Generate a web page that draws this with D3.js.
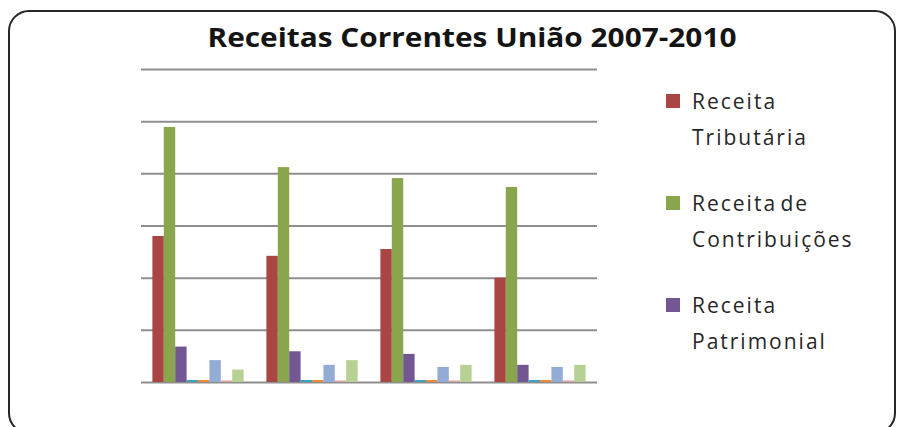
<!DOCTYPE html>
<html>
<head>
<meta charset="utf-8">
<script src="https://cdn.jsdelivr.net/npm/d3@7"></script>
<style>
  body { margin: 0; background: #fff; }
  svg { display: block; }
</style>
</head>
<body>
<div id="chart"></div>
<script>
// categories and series (values in R$ bilhões)
const years = ["2007", "2008", "2009", "2010"];
const seriesNames = [
    "Receita Tributária",
    "Receita de Contribuições",
    "Receita Patrimonial",
    "Receita Agropecuária",
    "Receita Industrial",
    "Receita de Serviços",
    "Transferências Correntes",
    "Outras Receitas Correntes"
];
const tributaria    = [278, 240, 253, 198];
const contribuicoes = [487, 410, 389, 372];
const patrimonial   = [66, 57, 52, 31];
const agropecuaria  = [2, 2, 2, 2];
const industrial    = [2, 2, 2, 2];
const servicos      = [40, 31, 27, 27];
const transferencias = [1, 1, 1, 1];
const outras        = [22, 40, 31, 31];
const yTicks = [0, 100, 200, 300, 400, 500, 600];

// legend only shows the first three lines (split like in Excel)
const legendLines = [
    ["Receita", "Tributária"],
    ["Receita de", "Contribuições"],
    ["Receita", "Patrimonial"]
];

const seriesValues = [tributaria, contribuicoes, patrimonial, agropecuaria,
                      industrial, servicos, transferencias, outras];
const colors = ["#a94543", "#8aa64c", "#725793", "#3ea4be",
                "#f08a3a", "#93acd6", "#e2a3a1", "#b7d094"];

const width = 897, height = 427;
const plot = {left: 141, right: 597, top: 69, bottom: 382};

let svg = d3.select("#chart")
    .append("svg")
    .attr("width", width)
    .attr("height", height);

// rounded frame of the chart area
svg.append("rect")
    .attr("x", 9)
    .attr("y", 11)
    .attr("width", 886)
    .attr("height", 422)
    .attr("rx", 20)
    .attr("ry", 20)
    .style("fill", "#fff")
    .style("stroke", "#262626")
    .style("stroke-width", 2);

// title
svg.append("text")
    .attr("x", 472)
    .attr("y", 47)
    .attr("text-anchor", "middle")
    .attr("textLength", 529)
    .attr("lengthAdjust", "spacingAndGlyphs")
    .style("font-family", "'Open Sans', sans-serif")
    .style("font-weight", "bold")
    .style("font-size", "27px")
    .style("fill", "#141414")
    .text("Receitas Correntes União 2007-2010");

// scales
let y = d3.scaleLinear()
    .domain([0, 600])
    .range([plot.bottom, plot.top]);

let x0 = d3.scaleBand()
    .domain(years)
    .range([plot.left, plot.right])
    .paddingInner(0.2)
    .paddingOuter(0.1);

let x1 = d3.scaleBand()
    .domain(seriesNames)
    .range([0, x0.bandwidth()]);

// gridlines (no tick labels on this chart)
let grid = svg.append("g")
    .attr("transform", `translate(${plot.left},0)`)
    .call(d3.axisLeft(y)
        .tickValues(yTicks)
        .tickSize(-(plot.right - plot.left))
        .tickFormat(""));
grid.select(".domain").remove();
grid.selectAll(".tick line")
    .style("stroke", "#8e8e8e")
    .style("stroke-width", 2);

// bars
let rows = [];
years.forEach((yr, i) => {
    seriesNames.forEach((s, j) => {
        rows.push({year: yr, series: s, value: seriesValues[j][i], color: colors[j]});
    });
});

svg.append("g")
    .selectAll("rect")
    .data(rows)
    .enter()
    .append("rect")
        .attr("x", d => x0(d.year) + x1(d.series))
        .attr("y", d => y(d.value) - 1)
        .attr("width", x1.bandwidth())
        .attr("height", d => y(0) - y(d.value) + 1)
        .style("fill", d => d.color);

// legend
let legend = svg.append("g");
legendLines.forEach((lines, i) => {
    let base = 109 + i * 102;
    legend.append("rect")
        .attr("x", 666)
        .attr("y", base - 15)
        .attr("width", 14)
        .attr("height", 14)
        .style("fill", colors[i]);
    lines.forEach((t, k) => {
        legend.append("text")
            .attr("x", 692)
            .attr("y", base + k * 36)
            .style("font-family", "'Open Sans', sans-serif")
            .style("font-size", "21px")
            .style("letter-spacing", "2px")
            .style("word-spacing", "-4px")
            .style("fill", "#262626")
            .text(t);
    });
});
</script>
</body>
</html>
